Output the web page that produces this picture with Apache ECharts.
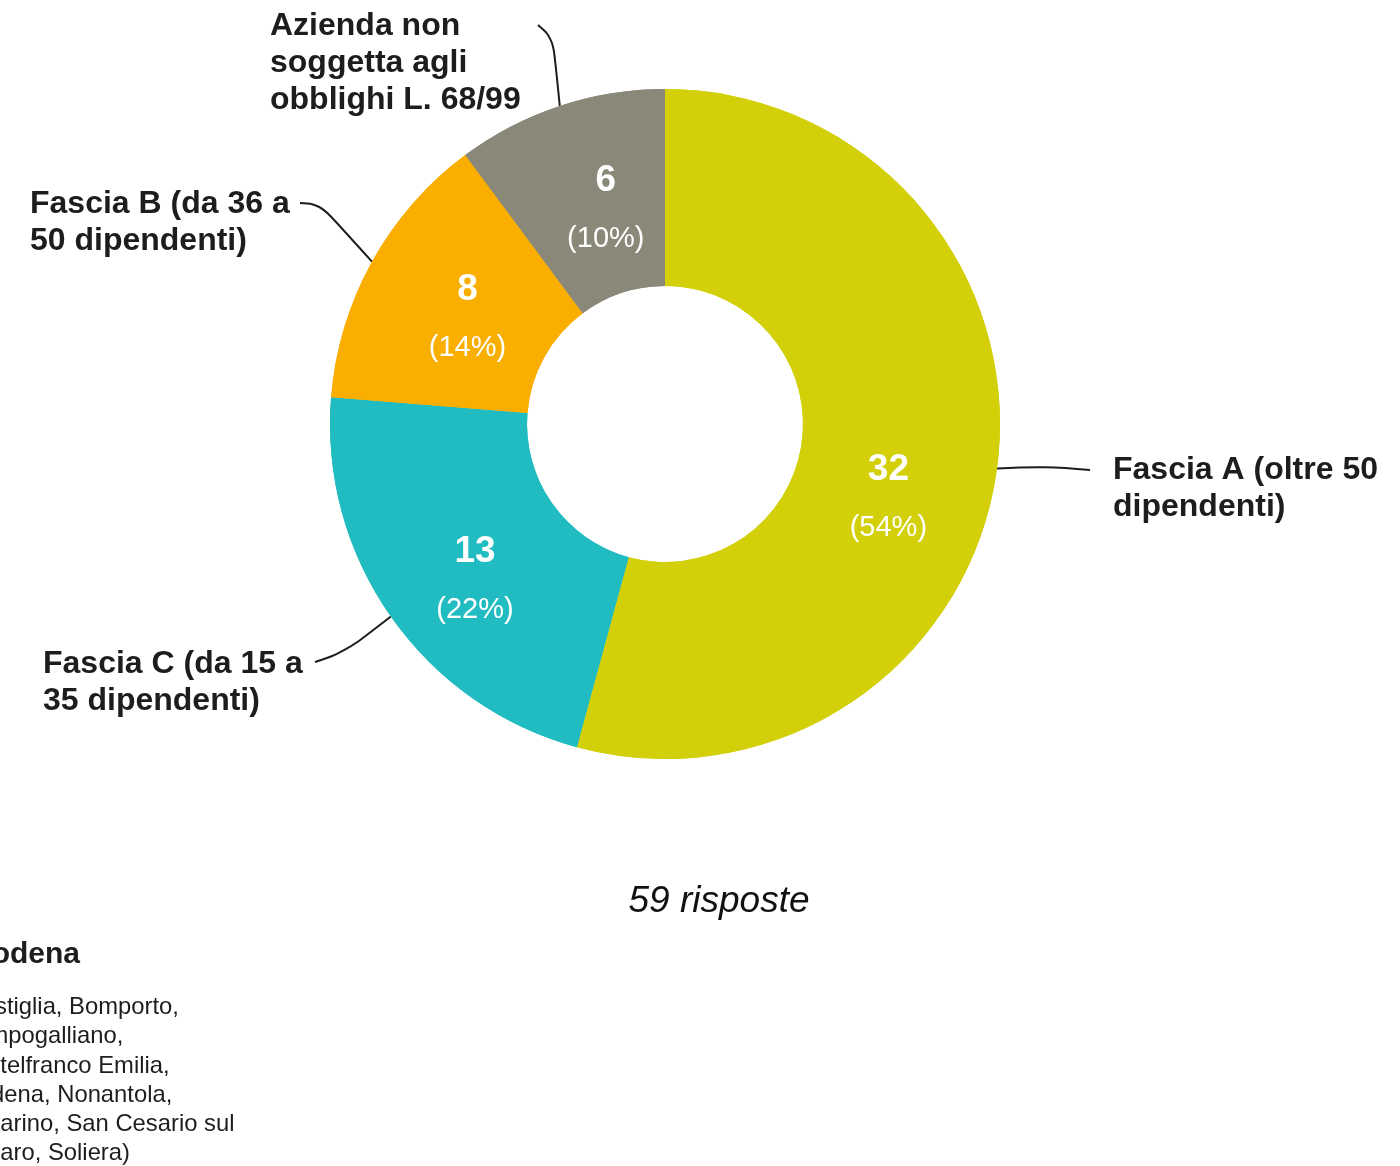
<!DOCTYPE html>
<html>
<head>
<meta charset="utf-8">
<script src="https://cdn.jsdelivr.net/npm/echarts@6/dist/echarts.min.js"></script>
<style>
  html, body { margin: 0; padding: 0; background: #fff; }
  #chart { width: 1400px; height: 1166px; }
</style>
</head>
<body>
<div id="chart"></div>
<script>
// slices, clockwise from 12 o'clock
const categories = [
  'Fascia A (oltre 50\ndipendenti)',
  'Fascia C (da 15 a\n35 dipendenti)',
  'Fascia B (da 36 a\n50 dipendenti)',
  'Azienda non\nsoggetta agli\nobblighi L. 68/99'
];
const counts = [32, 13, 8, 6];
const percents = ['54%', '22%', '14%', '10%'];
const colors = ['#d3d00a', '#21bcc1', '#f9ae00', '#8a8878'];

const totalLabel = '59 risposte';
const districtTitle = 'Distretto di Modena';
const districtLines = [
  '(Bastiglia, Bomporto,',
  'Campogalliano,',
  'Castelfranco Emilia,',
  'Modena, Nonantola,',
  'Ravarino, San Cesario sul',
  'Panaro, Soliera)'
];

const chart = echarts.init(document.getElementById('chart'));

const FONT = '"Liberation Sans", Arial, sans-serif';

// nudges for the value labels inside the ring
const insideShift = [
  [-14, 43],
  [6, 19],
  [12, 11],
  [16, 13]
];

// outside labels: [x, y of top, line end x, line end y, line bend x, line bend y]
const outsideLayout = [
  [1113, 452, 1090, 470, 1045, 466],
  [43, 646, 315, 662, 345, 652],
  [30, 186, 300, 203, 320, 204],
  [270, 8, 538, 25, 553, 38]
];

const pieData = categories.map((name, i) => ({
  name,
  value: counts[i],
  itemStyle: { color: colors[i] }
}));

const option = {
  animation: false,
  backgroundColor: '#ffffff',
  series: [
    {
      type: 'pie',
      center: [665, 424],
      radius: [138, 335],
      startAngle: 90,
      clockwise: true,
      silent: true,
      data: pieData,
      itemStyle: { borderWidth: 0 },
      label: {
        show: true,
        position: 'inside',
        formatter: p => `{n|${counts[p.dataIndex]}}\n{p|(${percents[p.dataIndex]})}`,
        rich: {
          n: {
            fontFamily: FONT,
            fontSize: 37,
            fontWeight: 'bold',
            color: '#ffffff',
            lineHeight: 58
          },
          p: {
            fontFamily: FONT,
            fontSize: 29,
            color: '#ffffff',
            lineHeight: 58
          }
        }
      },
      labelLine: { show: false },
      labelLayout: params => ({
        dx: insideShift[params.dataIndex][0],
        dy: insideShift[params.dataIndex][1]
      })
    },
    {
      type: 'pie',
      center: [665, 424],
      radius: [138, 335],
      startAngle: 90,
      clockwise: true,
      silent: true,
      data: pieData,
      itemStyle: { color: 'rgba(0,0,0,0)', borderWidth: 0 },
      label: {
        show: true,
        position: 'outside',
        formatter: '{b}',
        fontFamily: FONT,
        fontSize: 32,
        fontWeight: 'bold',
        lineHeight: 37,
        color: '#1d1d1b',
        align: 'left'
      },
      labelLine: {
        show: true,
        smooth: 0.4,
        lineStyle: { color: '#1d1d1b', width: 2 }
      },
      labelLayout: params => {
        const l = outsideLayout[params.dataIndex];
        const start = params.labelLinePoints ? params.labelLinePoints[0] : [l[2], l[3]];
        return {
          x: l[0],
          y: l[1],
          align: 'left',
          verticalAlign: 'top',
          labelLinePoints: [start, [l[4], l[5]], [l[2], l[3]]]
        };
      }
    }
  ],
  graphic: [
    {
      type: 'text',
      style: {
        text: totalLabel,
        x: 719,
        y: 902,
        align: 'center',
        verticalAlign: 'middle',
        fontFamily: FONT,
        fontSize: 37,
        fontStyle: 'italic',
        fill: '#111'
      }
    },
    {
      type: 'text',
      style: {
        text: districtTitle,
        x: 80,
        y: 955,
        align: 'right',
        verticalAlign: 'middle',
        fontFamily: FONT,
        fontSize: 30,
        fontWeight: 'bold',
        fill: '#1d1d1b'
      }
    },
    {
      type: 'text',
      style: {
        text: districtLines.join('\n'),
        x: -42,
        y: 993,
        align: 'left',
        verticalAlign: 'top',
        fontFamily: FONT,
        fontSize: 23.8,
        lineHeight: 29.2,
        fill: '#1d1d1b'
      }
    }
  ]
};

chart.setOption(option);
</script>
</body>
</html>
